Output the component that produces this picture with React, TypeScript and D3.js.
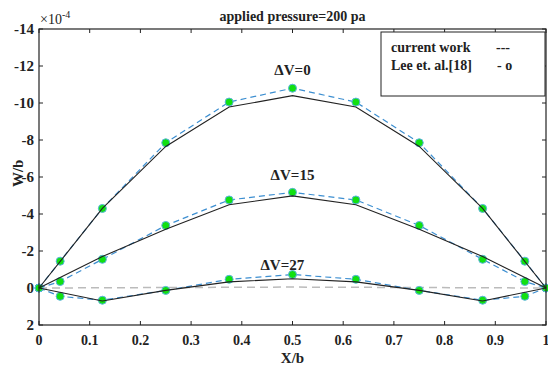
import React, { useEffect, useRef } from 'react';
import * as d3 from 'd3';

// x/b stations
const xLee = [0, 0.0417, 0.125, 0.25, 0.375, 0.5, 0.625, 0.75, 0.875, 0.9583, 1];
const xCur = [0, 0.125, 0.25, 0.375, 0.5, 0.625, 0.75, 0.875, 1];

// Lee et. al. [18] (dashed + circles)
const lee0 = [0, -1.45, -4.3, -7.85, -10.05, -10.8, -10.05, -7.85, -4.3, -1.45, 0];
const lee15 = [0, -0.35, -1.55, -3.38, -4.76, -5.17, -4.76, -3.38, -1.55, -0.35, 0];
const lee27 = [0, 0.45, 0.66, 0.13, -0.47, -0.73, -0.47, 0.13, 0.66, 0.45, 0];

// current work (solid)
const cur0 = [0, -4.3, -7.65, -9.78, -10.4, -9.78, -7.65, -4.3, 0];
const cur15 = [0, -1.7, -3.18, -4.5, -4.98, -4.5, -3.18, -1.7, 0];
const cur27 = [0, 0.7, 0.13, -0.33, -0.5, -0.33, 0.13, 0.7, 0];

// flat reference
const xZero = [0, 0.5, 1];
const zero = [0, -0.05, 0];

const yTicks = [-14, -12, -10, -8, -6, -4, -2, 0, 2];
const xTicks = [0, 0.1, 0.2, 0.3, 0.4, 0.5, 0.6, 0.7, 0.8, 0.9, 1];

const labels = [
  { text: 'ΔV=0', x: 0.5, y: -11.5 },
  { text: 'ΔV=15', x: 0.5, y: -5.85 },
  { text: 'ΔV=27', x: 0.48, y: -1.0 },
];

const FONT = 'Liberation Serif, Times, serif';

const App: React.FC = () => {
  const svgRef = useRef<SVGSVGElement | null>(null);

  useEffect(() => {
    if (!svgRef.current) return;
    const width = 548;
    const height = 373;
    const margin = { top: 29, right: 2, bottom: 48, left: 39 };

    const svg = d3.select(svgRef.current);
    svg.selectAll('*').remove();

    const x = d3.scaleLinear().domain([0, 1]).range([margin.left, width - margin.right]);
    const y = d3.scaleLinear().domain([-14, 2]).range([margin.top, height - margin.bottom]);

    const g = svg.append('g');
    const txt = (sel: d3.Selection<SVGGElement, unknown, null, undefined>, size: number, bold = true) =>
      sel.append('text').attr('font-family', FONT).attr('font-size', size)
        .attr('font-weight', bold ? 'bold' : 'normal').attr('fill', '#222');

    // ticks (inward, all four sides)
    const tl = 4;
    xTicks.forEach(t => {
      g.append('line').attr('x1', x(t)).attr('x2', x(t)).attr('y1', y(2)).attr('y2', y(2) - tl)
        .attr('stroke', '#222');
      g.append('line').attr('x1', x(t)).attr('x2', x(t)).attr('y1', y(-14)).attr('y2', y(-14) + tl)
        .attr('stroke', '#222');
      txt(g, 14).attr('x', x(t)).attr('y', y(2) + 20).attr('text-anchor', 'middle').text(String(t));
    });
    yTicks.forEach(t => {
      g.append('line').attr('x1', x(0)).attr('x2', x(0) + tl).attr('y1', y(t)).attr('y2', y(t))
        .attr('stroke', '#222');
      g.append('line').attr('x1', x(1)).attr('x2', x(1) - tl).attr('y1', y(t)).attr('y2', y(t))
        .attr('stroke', '#222');
      txt(g, 15).attr('x', x(0) - 5).attr('y', y(t) + 5).attr('text-anchor', 'end').text(String(t));
    });

    const line = d3.line<[number, number]>().x(d => x(d[0])).y(d => y(d[1]));
    const pts = (xs: number[], ys: number[]) => xs.map((v, i) => [v, ys[i]] as [number, number]);

    // zero reference
    g.append('path').datum(pts(xZero, zero)).attr('d', line)
      .attr('fill', 'none').attr('stroke', '#bbbbbb').attr('stroke-width', 1.5)
      .attr('stroke-dasharray', '8,5');

    // Lee dashed
    [lee0, lee15, lee27].forEach(s => {
      g.append('path').datum(pts(xLee, s)).attr('d', line)
        .attr('fill', 'none').attr('stroke', '#3d8fd1').attr('stroke-width', 1.2)
        .attr('stroke-dasharray', '6,4');
    });

    // Lee markers
    [lee0, lee15, lee27].forEach(s => {
      g.selectAll(null).data(pts(xLee, s)).enter().append('circle')
        .attr('cx', d => x(d[0])).attr('cy', d => y(d[1])).attr('r', 4)
        .attr('fill', '#11e011').attr('stroke', '#5ab4e0').attr('stroke-width', 1);
    });

    // current work solid
    [cur0, cur15, cur27].forEach(s => {
      g.append('path').datum(pts(xCur, s)).attr('d', line)
        .attr('fill', 'none').attr('stroke', '#222').attr('stroke-width', 1.1);
    });

    // frame
    g.append('rect').attr('x', x(0)).attr('y', y(-14))
      .attr('width', x(1) - x(0)).attr('height', y(2) - y(-14))
      .attr('fill', 'none').attr('stroke', '#222').attr('stroke-width', 1.2);

    // curve labels
    labels.forEach(l => {
      txt(g, 15).attr('x', x(l.x)).attr('y', y(l.y)).attr('text-anchor', 'middle').text(l.text);
    });

    // legend
    const lg = g.append('g');
    lg.append('rect').attr('x', 381).attr('y', 32).attr('width', x(1) - 381 - 1).attr('height', 64)
      .attr('fill', 'white').attr('stroke', '#222').attr('stroke-width', 1);
    txt(lg, 14).attr('x', 391).attr('y', 52).text('current work');
    txt(lg, 14).attr('x', 496).attr('y', 52).text('---');
    txt(lg, 14).attr('x', 391).attr('y', 70).text('Lee et. al.[18]');
    txt(lg, 14).attr('x', 497).attr('y', 70).text('- o');

    // title, exponent, axis labels
    txt(g, 14).attr('x', x(0.5)).attr('y', 21).attr('text-anchor', 'middle').text('applied pressure=200 pa');
    const ex = txt(g, 14, false).attr('x', 40).attr('y', 24);
    ex.append('tspan').text('×10');
    ex.append('tspan').attr('dy', -6).attr('font-size', 10).text('-4');
    txt(g, 15).attr('x', x(0.5)).attr('y', 363).attr('text-anchor', 'middle').text('X/b');
    txt(g, 15).attr('transform', `translate(23,${y(-6.2)}) rotate(-90)`).attr('text-anchor', 'middle')
      .text('W/b');
  }, []);

  return (
    <div style={{ position: 'absolute', left: 0, top: 0 }}>
      <svg ref={svgRef} width={548} height={373} style={{ display: 'block', background: 'white' }} />
    </div>
  );
};

export default App;
